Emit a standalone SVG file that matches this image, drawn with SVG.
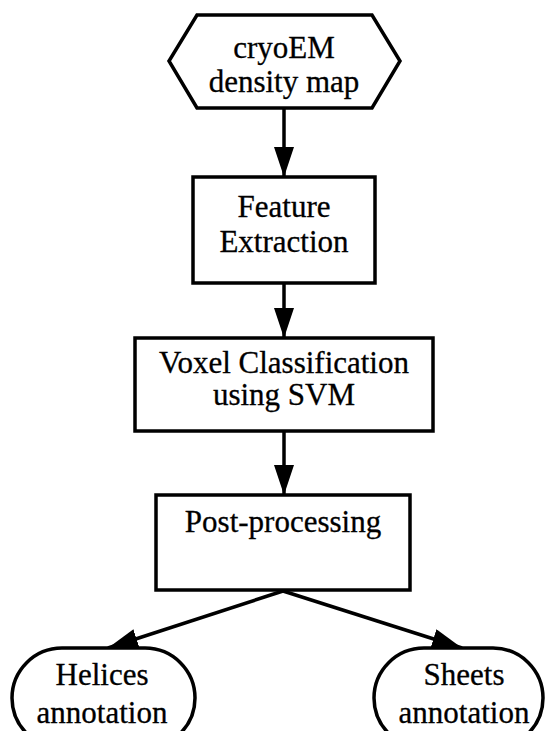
<svg xmlns="http://www.w3.org/2000/svg" width="545" height="731" viewBox="0 0 545 731">
<style>
.shape{fill:#fff;stroke:#000;stroke-width:3.5;stroke-linejoin:miter}
.lbl{font-family:"Liberation Serif","Times New Roman",serif;font-size:31px;fill:#000;stroke:#000;stroke-width:0.3;text-anchor:middle}
.conn{stroke:#000;stroke-width:3.5;fill:none}
</style>
<defs>
<marker id="arr" viewBox="0 0 30 20" refX="30" refY="10" markerWidth="30" markerHeight="20" markerUnits="userSpaceOnUse" orient="auto">
<path d="M0,0 L30,10 L0,20 z" fill="#000"/>
</marker>
</defs>
<rect width="545" height="731" fill="#fff"/>
<g id="connectors">
<line class="conn" x1="284" y1="108" x2="284" y2="177" marker-end="url(#arr)"/>
<line class="conn" x1="284" y1="283" x2="284" y2="338" marker-end="url(#arr)"/>
<line class="conn" x1="284" y1="431" x2="284" y2="495" marker-end="url(#arr)"/>
<line class="conn" x1="283" y1="591" x2="108" y2="648" marker-end="url(#arr)"/>
<line class="conn" x1="283" y1="591" x2="462" y2="648" marker-end="url(#arr)"/>
</g>
<g id="node-cryoem">
<polygon class="shape" points="197,15 372,15 400,61 372,108 197,108 169,61"/>
<text class="lbl" x="284" y="58">cryoEM</text>
<text class="lbl" x="284" y="92">density map</text>
</g>
<g id="node-feature">
<rect class="shape" x="193" y="177" width="182" height="106"/>
<text class="lbl" x="284" y="217">Feature</text>
<text class="lbl" x="284" y="252">Extraction</text>
</g>
<g id="node-voxel">
<rect class="shape" x="135" y="338" width="298" height="93"/>
<text class="lbl" x="284" y="373">Voxel Classification</text>
<text class="lbl" x="284" y="405">using SVM</text>
</g>
<g id="node-post">
<rect class="shape" x="156" y="495" width="254" height="95"/>
<text class="lbl" x="283" y="532">Post-processing</text>
</g>
<g id="node-helices">
<rect class="shape" x="12" y="648" width="183" height="100" rx="50" ry="50"/>
<text class="lbl" x="102" y="685">Helices</text>
<text class="lbl" x="102" y="723">annotation</text>
</g>
<g id="node-sheets">
<rect class="shape" x="374" y="648" width="169" height="100" rx="50" ry="50"/>
<text class="lbl" x="464" y="685">Sheets</text>
<text class="lbl" x="464" y="723">annotation</text>
</g>
</svg>
